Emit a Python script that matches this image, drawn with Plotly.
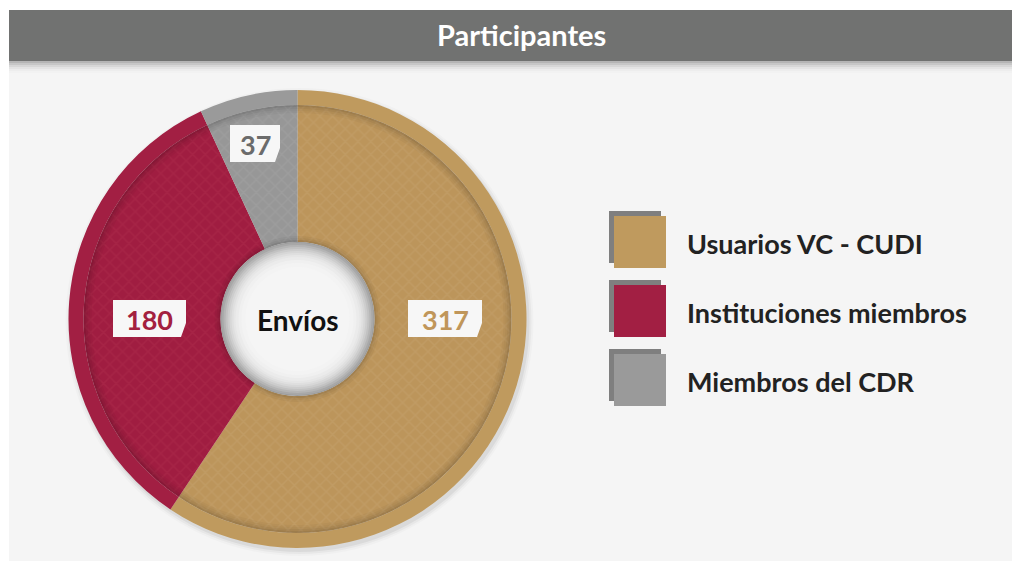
import plotly.graph_objects as go

# ---- data ----
categories = ["Usuarios VC - CUDI", "Instituciones miembros", "Miembros del CDR"]
values = [317, 180, 37]
title_text = "Participantes"
center_text = "Envíos"

colors_ring = ["#bf9a5e", "#a21f43", "#9a9a9a"]
colors_inner = ["#bc955b", "#a01d41", "#979797"]
colors_pat = ["#c9a574", "#b0304f", "#a8a8a8"]
text_colors = ["#c0965a", "#a3213f", "#6b6b6b"]

W, H = 1020, 561
OFF = 8  # page body margin
FONT = "Lato"


def px(x):
    return (x - OFF) / W


def py(y):
    return 1 - (y - OFF) / H


def dom(cx, cy, r):
    return dict(x=[px(cx - r), px(cx + r)], y=[py(cy + r), py(cy - r)])


def circ(r, cx, cy, **kw):
    return dict(type="circle", xref="paper", yref="paper",
                x0=px(cx - r), x1=px(cx + r), y0=py(cy + r), y1=py(cy - r), **kw)


CX, CY = 297.5, 319
R_OUT, R_IN, R_HOLE = 229, 214, 77

fig = go.Figure()

shapes = []
# page background
shapes.append(dict(type="rect", xref="paper", yref="paper", x0=px(9), x1=1.05, y0=-0.05, y1=py(58),
                   fillcolor="#f5f5f5", line=dict(width=0), layer="below"))
# title bar shadow
for i, a in enumerate([0.09, 0.07, 0.05, 0.035, 0.02, 0.01]):
    shapes.append(dict(type="rect", xref="paper", yref="paper", x0=px(9), x1=1.05,
                       y0=py(61 + (i + 1) * 2), y1=py(58), fillcolor=f"rgba(0,0,0,{a})",
                       line=dict(width=0), layer="below"))
# title bar
shapes.append(dict(type="rect", xref="paper", yref="paper", x0=px(9), x1=1.05, y0=py(61), y1=py(10),
                   fillcolor="#717271", line=dict(width=0), layer="below"))
# donut drop shadow
for i, a in enumerate([0.05, 0.035, 0.02]):
    r = R_OUT + 1 + i * 2
    shapes.append(circ(r, CX + 2, CY + 3, fillcolor=f"rgba(0,0,0,{a})", line=dict(width=0), layer="below"))

# outer ring
fig.add_trace(go.Pie(
    labels=categories, values=values, sort=False, direction="clockwise", rotation=0,
    hole=R_IN / R_OUT, domain=dom(CX, CY, R_OUT),
    marker=dict(colors=colors_ring, line=dict(width=0)),
    textinfo="none", hoverinfo="label+value", showlegend=False,
))
# inner segments with texture
fig.add_trace(go.Pie(
    labels=categories, values=values, sort=False, direction="clockwise", rotation=0,
    hole=R_HOLE / R_IN, domain=dom(CX, CY, R_IN),
    marker=dict(colors=colors_inner, line=dict(width=0),
                pattern=dict(shape="x", bgcolor=colors_inner, fgcolor=colors_pat,
                             fgopacity=0.35, size=9, solidity=0.3)),
    textinfo="none", hoverinfo="label+value", showlegend=False,
))

# inner shadow along ring edge
for i, a in enumerate([0.16, 0.10, 0.06, 0.03]):
    shapes.append(circ(R_IN - 1 - i * 2, CX, CY, line=dict(width=2, color=f"rgba(0,0,0,{a})")))
# shadow around hole
for i, a in enumerate([0.14, 0.08, 0.04]):
    shapes.append(circ(R_HOLE + 1 + i * 2, CX, CY, line=dict(width=2, color=f"rgba(0,0,0,{a})")))

# hole with radial gradient
steps = [(77, "#9c9c9c"), (76, "#a8a8a8"), (74, "#b5b5b5"), (72, "#c2c2c2"), (70, "#cdcdcd"),
         (68, "#d7d7d7"), (66, "#dfdfdf"), (64, "#e6e6e6"), (62, "#ebebeb"), (59, "#f0f0f0"),
         (56, "#f3f3f3"), (52, "#f5f5f5")]
for r, c in steps:
    shapes.append(circ(r, CX, CY, fillcolor=c, line=dict(width=0)))

annotations = []
annotations.append(dict(text=f"<b>{title_text}</b>", x=px(521), y=py(35), xref="paper", yref="paper",
                        showarrow=False, font=dict(family=FONT, size=29, color="white"),
                        xanchor="center", yanchor="middle"))
annotations.append(dict(text=f"<b>{center_text}</b>", x=px(CX), y=py(320), xref="paper", yref="paper",
                        showarrow=False, font=dict(family=FONT, size=28, color="#111111"),
                        xanchor="center", yanchor="middle"))

# value label boxes (x0, y0, x1, y1)
boxes = [(408, 300, 482, 337), (113, 300, 186, 337), (230, 125, 280, 162)]
for (x0, y0, x1, y1), v, tc in zip(boxes, values, text_colors):
    path = (f"M {px(x0)},{py(y0)} L {px(x1)},{py(y0)} L {px(x1)},{py(y1 - 14)} "
            f"L {px(x1 - 5)},{py(y1)} L {px(x0)},{py(y1)} Z")
    shapes.append(dict(type="path", xref="paper", yref="paper", path=path,
                       fillcolor="#f7f7f7", line=dict(width=0)))
    annotations.append(dict(text=f"<b>{v}</b>", x=px((x0 + x1) / 2), y=py((y0 + y1) / 2 + 1),
                            xref="paper", yref="paper", showarrow=False,
                            font=dict(family=FONT, size=27, color=tc),
                            xanchor="center", yanchor="middle"))

# legend
leg_y = [216, 285, 354]
for yy, c, name in zip(leg_y, colors_ring, categories):
    shapes.append(dict(type="rect", xref="paper", yref="paper", x0=px(609), x1=px(661),
                       y0=py(yy - 5 + 52), y1=py(yy - 5), fillcolor="#7f7f7f", line=dict(width=0)))
    shapes.append(dict(type="rect", xref="paper", yref="paper", x0=px(614), x1=px(666),
                       y0=py(yy + 52), y1=py(yy), fillcolor=c, line=dict(width=0)))
    annotations.append(dict(text=f"<b>{name}</b>", x=px(685), y=py(yy + 27), xref="paper", yref="paper",
                            showarrow=False, font=dict(family=FONT, size=27, color="#222222"),
                            xanchor="left", yanchor="middle"))

fig.update_layout(
    width=W, height=H, margin=dict(l=0, r=0, t=0, b=0),
    paper_bgcolor="white", plot_bgcolor="white",
    shapes=shapes, annotations=annotations, showlegend=False,
)
fig.write_html("out.html")
